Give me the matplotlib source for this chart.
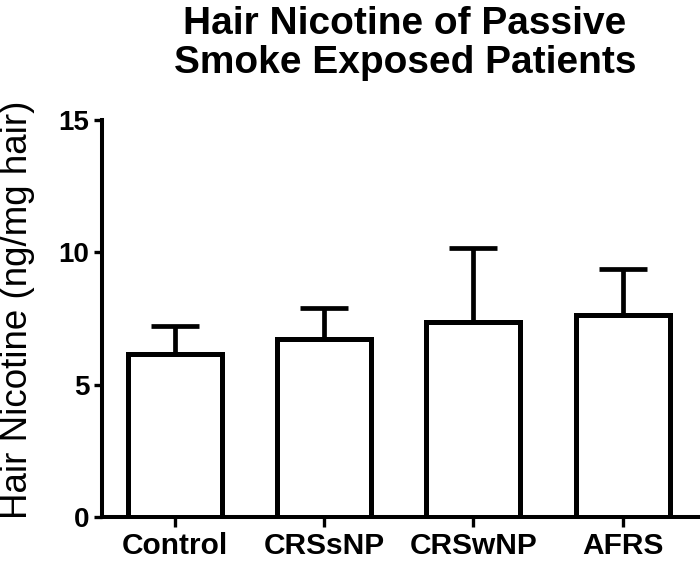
import matplotlib
matplotlib.use("Agg")
from matplotlib import pyplot as plt

# group means and upper SEM
groups = ["Control", "CRSsNP", "CRSwNP", "AFRS"]
means = [6.14, 6.73, 7.36, 7.63]
errs = [1.07, 1.15, 2.79, 1.75]
yticks = [0, 5, 10, 15]

plt.rcParams['font.family'] = ['Liberation Sans', 'DejaVu Sans']

fig = plt.figure(figsize=(7, 5.61), dpi=100)
ax = fig.add_axes([101.7 / 700, 1 - 517 / 561, 597 / 700, 397 / 561])

x = list(range(len(groups)))
ax.bar(x, means, width=0.63, color='white', edgecolor='black', linewidth=3.6, zorder=3)
ax.errorbar(x, means, yerr=[[0] * len(errs), errs], fmt='none', ecolor='black',
            elinewidth=3.4, capsize=17, capthick=3.4, zorder=2)

ax.set_xlim(-0.49, 3.51)
ax.set_ylim(0, 15)
ax.set_yticks(yticks)
ax.set_xticks(x)
ax.set_xticklabels(groups, fontsize=21.5, fontweight='bold')
ax.set_yticklabels([str(v) for v in yticks], fontsize=20, fontweight='bold')

for s in ['top', 'right']:
    ax.spines[s].set_visible(False)
for s in ['left', 'bottom']:
    ax.spines[s].set_linewidth(2.9)
ax.tick_params(axis='x', length=7, width=2.4, pad=4)
ax.tick_params(axis='y', length=6, width=2.4, pad=3)

fig.text(18 / 700, 1 - 310 / 561, "Hair Nicotine (ng/mg hair)", rotation=90,
         ha='center', va='center', fontsize=26.5)
fig.text(405 / 700, 1 - 6 / 561, "Hair Nicotine of Passive\nSmoke Exposed Patients",
         ha='center', va='top', fontsize=28, fontweight='bold', linespacing=1.12)

fig.savefig("out.png", dpi=100)
